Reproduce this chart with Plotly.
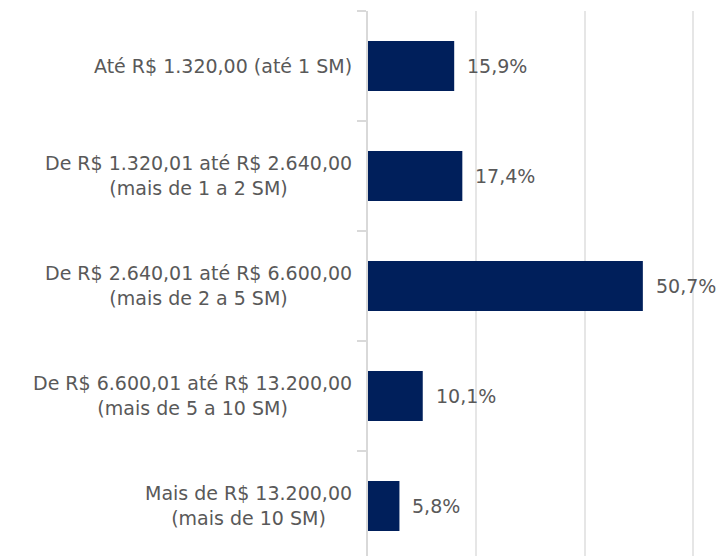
import plotly.graph_objects as go

categories = [
    "Até R$ 1.320,00 (até 1 SM)",
    "De R$ 1.320,01 até R$ 2.640,00<br>(mais de 1 a 2 SM)",
    "De R$ 2.640,01 até R$ 6.600,00<br>(mais de 2 a 5 SM)",
    "De R$ 6.600,01 até R$ 13.200,00<br>(mais de 5 a 10 SM)",
    "Mais de R$ 13.200,00<br>(mais de 10 SM)",
]
values = [15.9, 17.4, 50.7, 10.1, 5.8]
value_labels = ["15,9%", "17,4%", "50,7%", "10,1%", "5,8%"]

BAR_COLOR = "#001f5b"
TEXT_COLOR = "#595959"
GRID_COLOR = "#e6e6e6"
AXIS_COLOR = "#d9d9d9"
FONT = "DejaVu Sans"
FONT_SIZE = 19

positions = list(range(len(categories)))

fig = go.Figure(
    go.Bar(
        x=values,
        y=positions,
        orientation="h",
        width=0.455,
        marker=dict(color=BAR_COLOR, line=dict(width=0)),
        hoverinfo="skip",
    )
)

annotations = []
# category labels, lines centred within each block
for pos, cat in zip(positions, categories):
    annotations.append(dict(
        x=0, xref="paper", y=pos, yref="y",
        text=cat, showarrow=False,
        xanchor="right", yanchor="middle", align="center",
        xshift=-14,
        font=dict(family=FONT, size=FONT_SIZE, color=TEXT_COLOR),
    ))
# value labels beside each bar
for pos, val, lab in zip(positions, values, value_labels):
    annotations.append(dict(
        x=val, xref="x", y=pos, yref="y",
        text=lab, showarrow=False,
        xanchor="left", yanchor="middle",
        xshift=11,
        font=dict(family=FONT, size=FONT_SIZE, color=TEXT_COLOR),
    ))

fig.update_layout(
    width=722, height=556,
    margin=dict(l=368, r=0, t=11, b=0),
    paper_bgcolor="white", plot_bgcolor="white",
    showlegend=False,
    annotations=annotations,
    xaxis=dict(
        range=[0, 65.3],
        tickvals=[20, 40, 60],
        showticklabels=False,
        showgrid=True, gridcolor=GRID_COLOR, gridwidth=1.5,
        zeroline=False, showline=False,
    ),
    yaxis=dict(
        range=[4.455, -0.5],
        tickvals=[-0.5, 0.5, 1.5, 2.5, 3.5, 4.5],
        showticklabels=False,
        ticks="outside", ticklen=9, tickcolor=AXIS_COLOR, tickwidth=1.5,
        showgrid=False, zeroline=False,
        showline=True, linecolor=AXIS_COLOR, linewidth=1.5,
    ),
)

fig.write_html("out.html")
